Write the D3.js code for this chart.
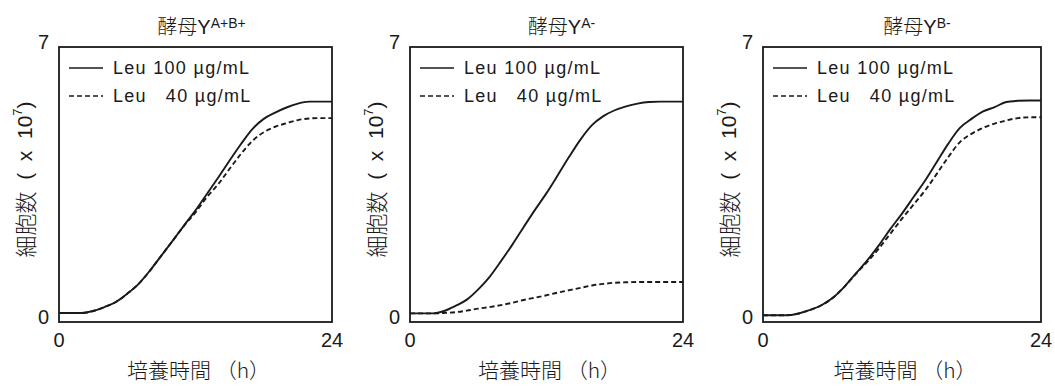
<!DOCTYPE html>
<html>
<head>
<meta charset="utf-8">
<script src="https://cdn.jsdelivr.net/npm/d3@7"></script>
<style>
  body { margin: 0; background: #fff; }
  svg { display: block; }
</style>
</head>
<body>
<div id="chart"></div>
<script>
// culture time (h)
const hours = [0, 1, 2, 3, 4, 5, 6, 7, 8, 9, 10, 11, 12, 13, 14, 15, 16, 17, 18, 19, 20, 21, 22, 23, 24];
const xTicks = [0, 24];
const yTicks = [0, 7];

const panelTitles = ["A+B+", "A-", "B-"];
const legendLabels = ["Leu 100 µg/mL", "Leu   40 µg/mL"];

// cell count (x 10^7)
const yAB_leu100 = [0.23, 0.23, 0.23, 0.28, 0.38, 0.51, 0.72, 0.97, 1.31, 1.69, 2.07, 2.46, 2.84, 3.26, 3.68, 4.11, 4.53, 4.91, 5.17, 5.33, 5.46, 5.56, 5.61, 5.61, 5.61];
const yAB_leu40  = [0.23, 0.23, 0.23, 0.28, 0.38, 0.51, 0.72, 0.97, 1.31, 1.69, 2.07, 2.45, 2.79, 3.18, 3.51, 3.90, 4.28, 4.61, 4.83, 4.97, 5.06, 5.14, 5.18, 5.19, 5.19];
const yA_leu100  = [0.22, 0.22, 0.22, 0.28, 0.41, 0.57, 0.83, 1.15, 1.55, 1.97, 2.42, 2.86, 3.28, 3.74, 4.21, 4.65, 5.01, 5.24, 5.39, 5.49, 5.56, 5.60, 5.61, 5.61, 5.61];
const yA_leu40   = [0.22, 0.22, 0.22, 0.23, 0.25, 0.29, 0.34, 0.38, 0.43, 0.49, 0.56, 0.62, 0.68, 0.75, 0.81, 0.87, 0.93, 0.97, 1.00, 1.01, 1.02, 1.02, 1.02, 1.02, 1.02];
const yB_leu100  = [0.17, 0.17, 0.17, 0.21, 0.30, 0.42, 0.61, 0.89, 1.23, 1.57, 1.95, 2.37, 2.76, 3.18, 3.60, 4.07, 4.54, 4.94, 5.17, 5.36, 5.47, 5.60, 5.63, 5.64, 5.64];
const yB_leu40   = [0.17, 0.17, 0.17, 0.21, 0.30, 0.42, 0.61, 0.89, 1.22, 1.53, 1.87, 2.25, 2.63, 2.99, 3.35, 3.77, 4.20, 4.58, 4.79, 4.94, 5.05, 5.13, 5.19, 5.21, 5.21];

const panelSeries = [
  [yAB_leu100, yAB_leu40],
  [yA_leu100, yA_leu40],
  [yB_leu100, yB_leu40]
];

const width = 1055;
const height = 386;
const plotTop = 47, plotBottom = 322;
// box left/right per panel, plus a small nudge for the title
const layout = [
  { left: 59, right: 332, titleDx: 6 },
  { left: 410, right: 683, titleDx: 15 },
  { left: 763, right: 1041, titleDx: 15 }
];

const latin = "'Liberation Sans', Arial, Helvetica, sans-serif";
const cjk = "'Noto Sans CJK JP', 'Noto Sans CJK SC', sans-serif";
const ink = "#1a1a1a";
const dashes = [null, "5,3"];

const svg = d3.select("#chart")
  .append("svg")
  .attr("width", width)
  .attr("height", height);

const y = d3.scaleLinear().domain([0, 7]).range([plotBottom, plotTop]);

layout.forEach((p, i) => {
  const x = d3.scaleLinear().domain([0, 24]).range([p.left, p.right]);
  const g = svg.append("g").attr("class", "panel");

  // title
  const title = g.append("text")
    .attr("x", (p.left + p.right) / 2 + p.titleDx)
    .attr("y", 34)
    .attr("text-anchor", "middle")
    .attr("fill", ink);
  title.append("tspan")
    .attr("font-family", cjk)
    .attr("font-weight", 300)
    .attr("font-size", 20)
    .text("酵母");
  title.append("tspan")
    .attr("font-family", latin)
    .attr("font-size", 20)
    .text("Y");
  title.append("tspan")
    .attr("font-family", latin)
    .attr("font-size", 14)
    .attr("dy", -6)
    .text(panelTitles[i]);

  // curves
  const line = d3.line()
    .x((d, k) => x(hours[k]))
    .y(d => y(d))
    .curve(d3.curveMonotoneX);

  panelSeries[i].forEach((s, k) => {
    g.append("path")
      .datum(s)
      .attr("d", line)
      .attr("fill", "none")
      .attr("stroke", ink)
      .attr("stroke-width", 1.9)
      .attr("stroke-dasharray", dashes[k]);
  });

  // frame
  g.append("rect")
    .attr("x", p.left)
    .attr("y", plotTop)
    .attr("width", p.right - p.left)
    .attr("height", plotBottom - plotTop)
    .attr("fill", "none")
    .attr("stroke", ink)
    .attr("stroke-width", 1.8);

  // legend
  legendLabels.forEach((lab, k) => {
    const ly = plotTop + 21 + k * 28;
    g.append("line")
      .attr("x1", p.left + 10)
      .attr("x2", p.left + 44)
      .attr("y1", ly)
      .attr("y2", ly)
      .attr("stroke", ink)
      .attr("stroke-width", 1.6)
      .attr("stroke-dasharray", dashes[k]);
    g.append("text")
      .attr("x", p.left + 54)
      .attr("y", ly + 6)
      .attr("font-family", latin)
      .attr("font-size", 18)
      .attr("letter-spacing", 1.3)
      .style("white-space", "pre")
      .attr("fill", ink)
      .text(lab);
  });

  // tick labels
  g.selectAll(".ytick")
    .data(yTicks)
    .enter()
    .append("text")
    .attr("class", "ytick")
    .attr("x", p.left - 10)
    .attr("y", d => y(d) + 2)
    .attr("text-anchor", "end")
    .attr("font-family", latin)
    .attr("font-size", 20)
    .attr("fill", ink)
    .text(d => d);

  g.selectAll(".xtick")
    .data(xTicks)
    .enter()
    .append("text")
    .attr("class", "xtick")
    .attr("x", d => x(d))
    .attr("y", plotBottom + 25)
    .attr("text-anchor", "middle")
    .attr("font-family", latin)
    .attr("font-size", 20)
    .attr("fill", ink)
    .text(d => d);

  // axis titles
  g.append("text")
    .attr("x", (p.left + p.right) / 2 + 3)
    .attr("y", 378)
    .attr("text-anchor", "middle")
    .attr("font-family", cjk)
    .attr("font-weight", 300)
    .attr("font-size", 21)
    .attr("fill", ink)
    .style("white-space", "pre")
    .text("培養時間 （h）");

  const yt = g.append("text")
    .attr("transform", `translate(${p.left - 35}, ${(plotTop + plotBottom) / 2 - 5}) rotate(-90)`)
    .attr("text-anchor", "middle")
    .attr("dominant-baseline", "central")
    .attr("fill", ink)
    .style("white-space", "pre");
  yt.append("tspan").attr("font-family", cjk).attr("font-weight", 300).attr("font-size", 22).text("細胞数");
  yt.append("tspan").attr("font-family", latin).attr("font-size", 21).text("  (  x  10");
  yt.append("tspan").attr("font-family", latin).attr("font-size", 13).attr("dy", -7).text("7");
  yt.append("tspan").attr("font-family", latin).attr("font-size", 21).attr("dy", 7).text(")");
});
</script>
</body>
</html>
